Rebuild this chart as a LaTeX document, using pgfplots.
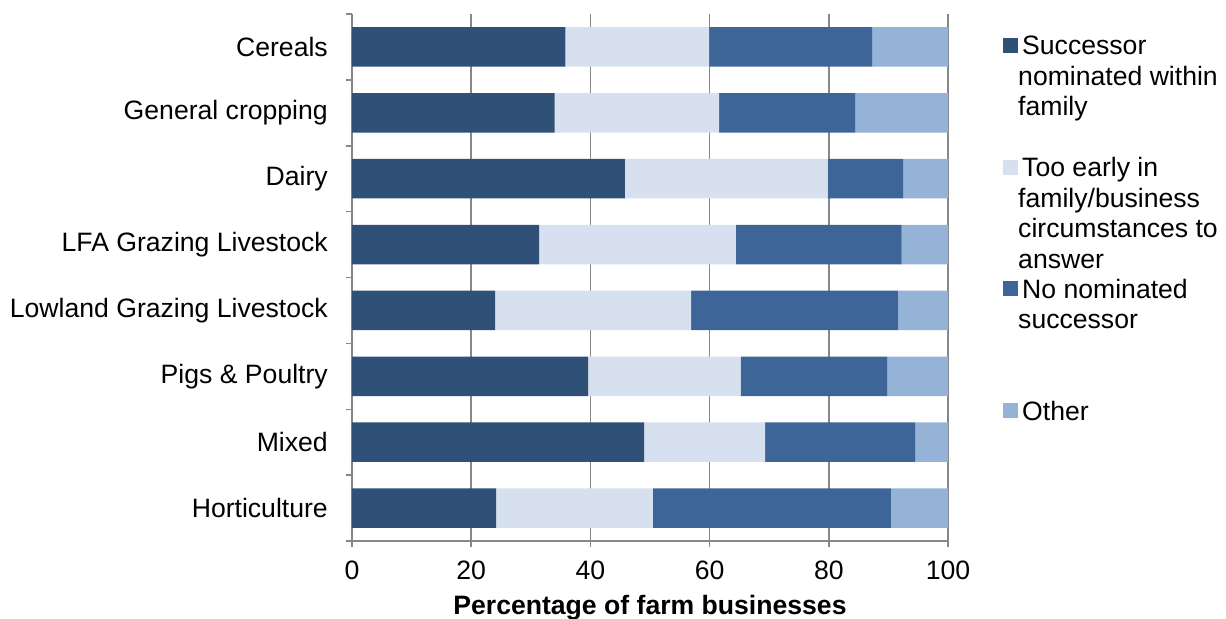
\documentclass[border=0pt]{standalone}
\usepackage{fontspec}
\setmainfont{Liberation Sans}
\usepackage{pgfplots}
\usepackage{pgfplotstable}
\pgfplotsset{compat=1.18}
\usetikzlibrary{calc}

\definecolor{cFamily}{HTML}{2F5077}
\definecolor{cEarly}{HTML}{D7E0EE}
\definecolor{cNone}{HTML}{3D6597}
\definecolor{cOther}{HTML}{95B2D7}
\definecolor{cGrid}{HTML}{878787}

\newcommand{\chartfont}{\fontsize{26.6}{30.5}\selectfont}
\newcommand{\legtext}[1]{\parbox[t]{215pt}{\raggedright\hspace*{4pt}\ignorespaces#1}}

% Share of farm businesses by succession status (per cent)
\pgfplotstableread{
idx family early none other
0   35.8   24.1  27.4 12.7
1   34.0   27.6  22.8 15.6
2   45.8   34.0  12.7  7.5
3   31.4   33.0  27.8  7.8
4   24.0   32.9  34.7  8.4
5   39.6   25.6  24.6 10.2
6   49.0   20.3  25.2  5.5
7   24.2   26.3  39.9  9.6
}\farmdata

\begin{document}
\begin{tikzpicture}
\begin{axis}[
  scale only axis,
  width=596pt, height=527pt,
  xbar stacked, bar width=39.5pt,
  xmin=0, xmax=100, ymin=-0.5, ymax=7.5, y dir=reverse,
  axis x line*=bottom, axis y line*=left,
  axis line style={cGrid, line width=1.5pt, -},
  xtick={0,20,...,100}, xmajorgrids,
  grid style={cGrid, line width=1.4pt},
  ytick={-0.5,0.5,...,7.5}, yticklabels={},
  extra y ticks={0,1,2,3,4,5,6,7},
  extra y tick labels={Cereals,General cropping,Dairy,LFA Grazing Livestock,Lowland Grazing Livestock,Pigs \& Poultry,Mixed,Horticulture},
  extra y tick style={tick style={draw=none}},
  tick align=outside, major tick length=6pt,
  tick style={cGrid, line width=1.5pt},
  /pgf/number format/assume math mode=true,
  tick label style={font=\chartfont},
  xticklabel style={inner sep=0pt, yshift=-14pt},
  yticklabel style={inner sep=0pt, xshift=-18pt},
  xlabel={Percentage of farm businesses},
  xlabel style={font=\chartfont\bfseries, inner sep=0pt, yshift=-15pt},
  legend style={draw=none, fill=none, font=\chartfont,
    at={(1.0923,0.958)}, anchor=north west,
    row sep=101pt, inner sep=0pt,
    nodes={inner sep=0pt, anchor=base west}},
  legend cell align=left,
  legend image code/.code={\fill[#1] (0pt,2pt) rectangle (15pt,17pt);},
]
\addplot[fill=cFamily, draw=none] table[x=family, y=idx] {\farmdata};
\addplot[fill=cEarly,  draw=none] table[x=early,  y=idx] {\farmdata};
\addplot[fill=cNone,   draw=none] table[x=none,   y=idx] {\farmdata};
\addplot[fill=cOther,  draw=none] table[x=other,  y=idx] {\farmdata};
\legend{
  {\legtext{Successor\\nominated within\\family}},
  {\legtext{Too early in\\family/business\\circumstances to\\answer}},
  {\legtext{No nominated\\successor}},
  {\legtext{Other}}
}
\end{axis}
\pgfresetboundingbox
\path[use as bounding box] ($(current axis.south west)+(-352pt,-78pt)$) rectangle ($(current axis.north east)+(278pt,14pt)$);
\end{tikzpicture}
\end{document}
